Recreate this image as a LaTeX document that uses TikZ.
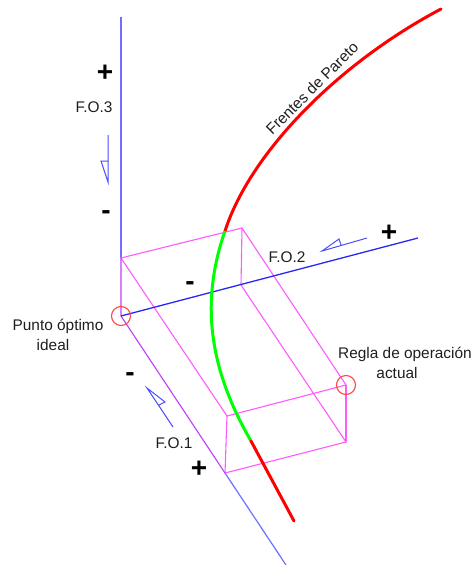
\documentclass[tikz,border=0pt]{standalone}
\usepackage{fontspec}
\setmainfont{Liberation Sans}
\definecolor{axisblue}{RGB}{110,110,255}
\definecolor{axisdark}{RGB}{40,40,240}
\definecolor{boxmag}{RGB}{255,90,255}
\definecolor{overlap}{RGB}{190,60,255}
\definecolor{ringred}{RGB}{255,70,70}
\definecolor{labelgray}{RGB}{30,30,30}
\tikzset{
  axisline/.style={draw=axisblue, line width=1.2pt},
  boxline/.style={draw=boxmag, line width=1.1pt},
  signarrow/.style={draw=axisblue!70!blue, line width=1pt, line join=miter},
  frontline/.style={line width=3pt},
  ring/.style={draw=ringred, line width=1.1pt},
  lbl/.style={font=\fontsize{15.4}{20.5}\selectfont, text=labelgray, inner sep=0pt, align=center},
  sign/.style={font=\fontsize{28}{28}\selectfont\bfseries, inner sep=0pt}
}
\begin{document}
\begin{tikzpicture}[x=1pt,y=-1pt]
\useasboundingbox (0,0) rectangle (475,565);
% box corners and axis ends
\coordinate (orig) at (121,316);
\coordinate (topz) at (121,17);
\coordinate (endy) at (418,238);
\coordinate (endx) at (286,565);
\coordinate (boxa) at (121,258);
\coordinate (boxb) at (242,228);
\coordinate (boxc) at (241,285);
\coordinate (boxd) at (346,385);
\coordinate (boxe) at (346,442);
\coordinate (boxf) at (225,473);
\coordinate (boxg) at (227,416);
% axes
\draw[axisline] (topz) -- (boxa);
\draw[axisline] (boxf) -- (endx);
% box
\draw[boxline] (boxa) -- (boxb) -- (boxd) -- (boxg) -- cycle;
\draw[boxline] (boxb) -- (boxc) -- (boxe) -- (boxf) -- (boxg);
\draw[boxline] (boxd) -- (boxe);
\draw[draw=overlap, line width=1.1pt] (boxa) -- (orig) -- (boxf);
\draw[draw=axisdark, line width=1.3pt] (orig) -- (endy);
% pareto front
\draw[red, frontline, line cap=round] (441,9) .. controls (337,64) and (250,153.5) .. (225,231);
\draw[green, frontline] (225,231) .. controls (199,305) and (211,372) .. (251,441);
\draw[red, frontline, line cap=round] (251,441) -- (294,521);
% reference points
\draw[ring] (orig) circle (9.5);
\draw[ring] (boxd) circle (9.5);
% direction arrows
\draw[signarrow] (108,135) -- (108,182) -- (101,161) -- (108,161);
\draw[signarrow] (367,238) -- (322,251) -- (339,239) -- (341,245);
\draw[signarrow] (173,427) -- (147,388) -- (165,402) -- (159,405);
% signs
\node[sign] (plusz) at (105,73) {+};
\node[sign] (minusz) at (106,215) {-};
\node[sign] (plusy) at (389,233) {+};
\node[sign] (minusy) at (190,286) {-};
\node[sign] (plusx) at (199,469) {+};
\node[sign] (minusx) at (130,377) {-};
% labels
\node[lbl] (foz) at (94,107) {F.O.3};
\node[lbl] (foy) at (287,257) {F.O.2};
\node[lbl] (fox) at (174,443) {F.O.1};
\node[lbl] (ideal) at (58,335) {Punto óptimo\\ideal\kern10pt};
\node[lbl] (regla) at (405,363) {Regla de operación\\actual\kern16pt};
\node[lbl, rotate=45] (front) at (312,88) {Frentes de Pareto};
\end{tikzpicture}
\end{document}
